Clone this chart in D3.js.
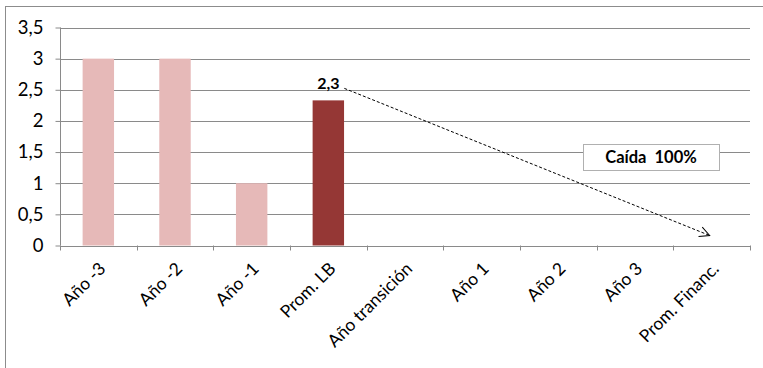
<!DOCTYPE html>
<html><head><meta charset="utf-8">
<script src="https://cdn.jsdelivr.net/npm/d3@7"></script>
<style>body{margin:0;background:#fff}svg{display:block}text{font-family:Lato,"Open Sans",sans-serif}</style>
</head><body><svg id="c" width="763" height="368"></svg>
<script>
const categories = ["Año -3","Año -2","Año -1","Prom. LB","Año transición","Año 1","Año 2","Año 3","Prom. Financ."];
const values = [3, 3, 1, 2.33, null, null, null, null, null];
const barKinds = ["hist","hist","hist","avg","none","none","none","none","none"];
const yTicks = [0,0.5,1,1.5,2,2.5,3,3.5];
const yTickLabels = ["0","0,5","1","1,5","2","2,5","3","3,5"];
const dataLabel = "2,3";
const calloutText = "Caída  100%";

const svg = d3.select("#c");
const m = {l:60, r:13, t:28, b:123};
const W = 763, H = 368;
const x = d3.scaleBand().domain(categories).range([m.l, W-m.r]).paddingInner(0).paddingOuter(0);
const y = d3.scaleLinear().domain([0,3.5]).range([245.5, 27.5]);

// outer frame
svg.append("rect").attr("x",5.5).attr("y",6.5).attr("width",800).attr("height",400)
  .attr("fill","none").attr("stroke","#8c8c8c").attr("stroke-width",1);

// gridlines
svg.append("g").selectAll("line").data(yTicks.filter(d=>d>0)).join("line")
  .attr("x1",m.l).attr("x2",W-m.r).attr("y1",d=>Math.round(y(d))+0.5).attr("y2",d=>Math.round(y(d))+0.5)
  .attr("stroke","#8a8a8a").attr("stroke-width",1);

// y axis
const ya = svg.append("g").attr("transform",`translate(${m.l+0.5},0)`)
  .call(d3.axisLeft(y).tickValues(yTicks).tickFormat((d,i)=>yTickLabels[i]).tickSize(5).tickPadding(12));
ya.selectAll("path,line").attr("stroke","#8a8a8a");
ya.selectAll("text").attr("font-size",18.5).attr("fill","#000");
ya.select(".domain").remove();
svg.append("line").attr("x1",m.l+0.5).attr("x2",m.l+0.5).attr("y1",y(3.5)).attr("y2",y(0)).attr("stroke","#8a8a8a");

// bars
const colors = {hist:"#e6b9b8", avg:"#953735"};
const bw = x.bandwidth()*0.41;
svg.append("g").selectAll("rect").data(categories.map((c,i)=>({c,v:values[i],k:barKinds[i]})).filter(d=>d.v!=null))
  .join("rect")
  .attr("x",d=>x(d.c)+x.bandwidth()/2-bw/2).attr("width",bw)
  .attr("y",d=>y(d.v)).attr("height",d=>y(0)-y(d.v))
  .attr("fill",d=>colors[d.k]);

// x axis
const xa = svg.append("g").attr("transform",`translate(0,${Math.round(y(0))+0.5})`)
  .call(d3.axisBottom(x).tickSize(0).tickFormat(""));
xa.select(".domain").attr("stroke","#8a8a8a").attr("d",`M${m.l},0H${W-m.r}`);
const edges = categories.map(c=>x(c)).concat([x(categories[categories.length-1])+x.bandwidth()]);
svg.append("g").selectAll("line").data(edges).join("line")
  .attr("x1",d=>Math.round(d)+0.5).attr("x2",d=>Math.round(d)+0.5)
  .attr("y1",y(0)).attr("y2",y(0)+5).attr("stroke","#8a8a8a");
svg.append("g").selectAll("text").data(categories).join("text")
  .attr("transform",d=>`translate(${x(d)+x.bandwidth()/2+4},${y(0)+20}) rotate(-45)`)
  .attr("text-anchor","end").attr("dy","0.35em").attr("font-size",17.5).attr("fill","#000").text(d=>d);

// data label
const iLB = barKinds.indexOf("avg");
const lbx = x(categories[iLB])+x.bandwidth()/2;
svg.append("text").attr("x",lbx).attr("y",y(values[iLB])-11).attr("text-anchor","middle")
  .attr("font-size",16).attr("font-weight","bold").attr("fill","#000").text(dataLabel);

// arrow
const defs = svg.append("defs");
defs.append("marker").attr("id","ah").attr("viewBox","0 0 12 12").attr("refX",11).attr("refY",6)
  .attr("markerWidth",12).attr("markerHeight",12).attr("markerUnits","userSpaceOnUse").attr("orient","auto")
  .append("path").attr("d","M1,1L11,6L1,11").attr("fill","none").attr("stroke","#000").attr("stroke-width",1);
const lastX = x(categories[categories.length-1])+x.bandwidth()/2;
svg.append("line").attr("x1",lbx+16).attr("y1",y(values[iLB])-12)
  .attr("x2",lastX-2).attr("y2",y(0)-10)
  .attr("stroke","#000").attr("stroke-width",1).attr("stroke-dasharray","3,2").attr("marker-end","url(#ah)");

// callout
const bx = 583, by = 144, bwid = 136, bh = 26;
svg.append("rect").attr("x",bx+0.5).attr("y",by+0.5).attr("width",bwid).attr("height",bh)
  .attr("fill","#fff").attr("stroke","#b0b0b0");
svg.append("text").attr("x",bx+bwid/2).attr("y",by+bh/2).attr("dy","0.35em").attr("text-anchor","middle")
  .attr("font-size",16.5).attr("font-weight","bold").attr("fill","#000").attr("xml:space","preserve").text(calloutText);
</script></body></html>
